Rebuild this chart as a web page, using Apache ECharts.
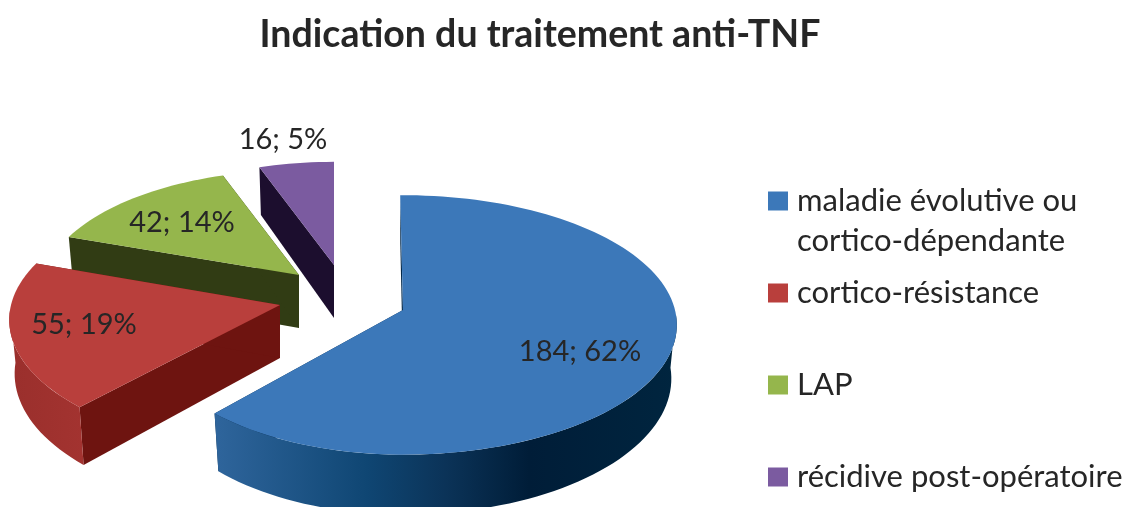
<!DOCTYPE html>
<html>
<head>
<meta charset="utf-8">
<title>Indication du traitement anti-TNF</title>
<script src="https://cdn.jsdelivr.net/npm/echarts@6/dist/echarts.min.js"></script>
<style>
  html, body { margin: 0; padding: 0; background: #fff; }
  #chart { width: 1131px; height: 507px; }
</style>
</head>
<body>
<div id="chart"></div>
<script>
const titleText = 'Indication du traitement anti-TNF';
const categories = ['maladie évolutive ou', 'cortico-résistance', 'LAP', 'récidive post-opératoire'];
const categorySecondLine = 'cortico-dépendante';
const counts = [184, 55, 42, 16];
const percents = [62, 19, 14, 5];
const topColors = ['#3c78b9', '#b93f3c', '#95b64c', '#7b5ba0'];
const edgeColors = ['#04294a', '#6e1410', '#313c14', '#1c0e2e'];

// tilted disc: the pie is projected by hand because echarts has no 3d pie
const PERSP = 0.115, DEPTH = 53, FLOOR_SCALE = 0.98;
// where each exploded slice has its tip, its label relative to that tip,
// and the radii of the source chart's slightly uneven perspective
const tips = [[403, 310], [280, 305], [299, 275], [334, 265]];
const labelOffsets = [[177, 42], [-196, 20], [-117, -52], [-51, -125]];
const radiiLeft = [256, 269, 254, 249];
const radiiRight = [272, 272, 272, 272];
const radiiY = [128, 128, 117, 115];
const angleShift = -0.7;

const total = counts.reduce((a, b) => a + b, 0);
const startAngles = [];
counts.reduce((sum, v, i) => {
  startAngles[i] = sum / total * 360;
  return sum + v;
}, 0);

function project(i, deg, r) {
  const a = deg * Math.PI / 180;
  const sin = Math.sin(a), cos = Math.cos(a);
  const s = 1 / (1 + PERSP * r * cos);
  const rx = sin < 0 ? radiiLeft[i] : radiiRight[i];
  return {
    x: tips[i][0] + rx * r * sin * s,
    y: tips[i][1] - radiiY[i] * r * cos * s,
    d: DEPTH * s
  };
}

// same point on the bottom face of the slice
function floorPoint(i, p) {
  return [tips[i][0] + (p.x - tips[i][0]) * FLOOR_SCALE, p.y + p.d];
}

function arcPoints(i, from, to) {
  const pts = [];
  const n = Math.max(2, Math.ceil((to - from) / 2));
  for (let k = 0; k <= n; k++) pts.push(project(i, from + (to - from) * k / n, 1));
  return pts;
}

function sideWall(i, deg) {
  const rim = project(i, deg, 1), mid = project(i, deg, 0);
  return {
    type: 'polygon',
    shape: { points: [[rim.x, rim.y], [mid.x, mid.y], floorPoint(i, mid), floorPoint(i, rim)] },
    style: { fill: edgeColors[i] }
  };
}

function wallGradient(i) {
  if (i === 0) {
    return {
      type: 'linear', x: 0, y: 0, x2: 1, y2: 0,
      colorStops: [
        { offset: 0, color: '#2f659c' },
        { offset: 0.33, color: '#0f4673' },
        { offset: 0.5, color: '#0b3358' },
        { offset: 0.68, color: '#001d38' },
        { offset: 1, color: '#00253f' }
      ]
    };
  }
  return {
    type: 'linear', x: 0, y: 0, x2: 1, y2: 0,
    colorStops: [{ offset: 0, color: '#9a2f2c' }, { offset: 1, color: '#a33330' }]
  };
}

function renderSlice(i) {
  return function (params, api) {
    const value = api.value(0);
    const tip = tips[i];
    const from = startAngles[i] + (i === 0 ? angleShift : 0);
    const to = startAngles[i] + value / total * 360 + (i === 0 ? angleShift : 0);
    const children = [];

    // radial faces first, the top face hides whichever one looks away from us
    children.push(sideWall(i, from));
    children.push(sideWall(i, to));

    // curved outer wall, only the part that faces the viewer
    const wallFrom = Math.max(from, 92);
    const wallTo = Math.min(to, 268);
    if (wallTo > wallFrom) {
      const rim = arcPoints(i, wallFrom, wallTo);
      const pts = rim.map((p) => [p.x, p.y]).concat(rim.slice().reverse().map((p) => floorPoint(i, p)));
      children.push({ type: 'polygon', shape: { points: pts }, style: { fill: wallGradient(i) } });
    }

    const topPts = arcPoints(i, from, to).map((p) => [p.x, p.y]);
    topPts.push(tip);
    children.push({ type: 'polygon', shape: { points: topPts }, style: { fill: topColors[i] } });

    children.push({
      type: 'text',
      style: {
        x: tip[0] + labelOffsets[i][0],
        y: tip[1] + labelOffsets[i][1],
        text: value + '; ' + percents[i] + '%',
        fill: '#262626',
        font: '29px Lato',
        textAlign: 'center',
        textVerticalAlign: 'middle'
      }
    });
    return { type: 'group', children: children };
  };
}

// back slices first so the nearer ones paint over them
const drawOrder = [3, 2, 1, 0];
const seriesList = drawOrder.map((i) => ({
  type: 'custom',
  name: categories[i],
  coordinateSystem: 'none',
  silent: true,
  itemStyle: { color: topColors[i] },
  renderItem: renderSlice(i),
  data: [[counts[i]]]
}));

const chart = echarts.init(document.getElementById('chart'));
chart.setOption({
  animation: false,
  backgroundColor: '#fff',
  title: {
    text: titleText,
    left: 535,
    top: 11,
    textAlign: 'center',
    textStyle: { fontFamily: 'Lato', fontWeight: 'bold', fontSize: 37.5, color: '#262626' }
  },
  legend: {
    orient: 'vertical',
    left: 768,
    top: 181,
    padding: 0,
    itemWidth: 20,
    itemHeight: 19,
    itemGap: 52,
    selectedMode: false,
    icon: 'rect',
    data: categories,
    textStyle: {
      fontFamily: 'Lato',
      fontSize: 31,
      color: '#262626',
      lineHeight: 40,
      padding: [0, 0, 0, 4]
    }
  },
  graphic: [{
    type: 'text',
    left: 797,
    top: 225,
    silent: true,
    style: { text: categorySecondLine, fill: '#262626', font: '31px Lato' }
  }],
  series: seriesList
});
</script>
</body>
</html>
